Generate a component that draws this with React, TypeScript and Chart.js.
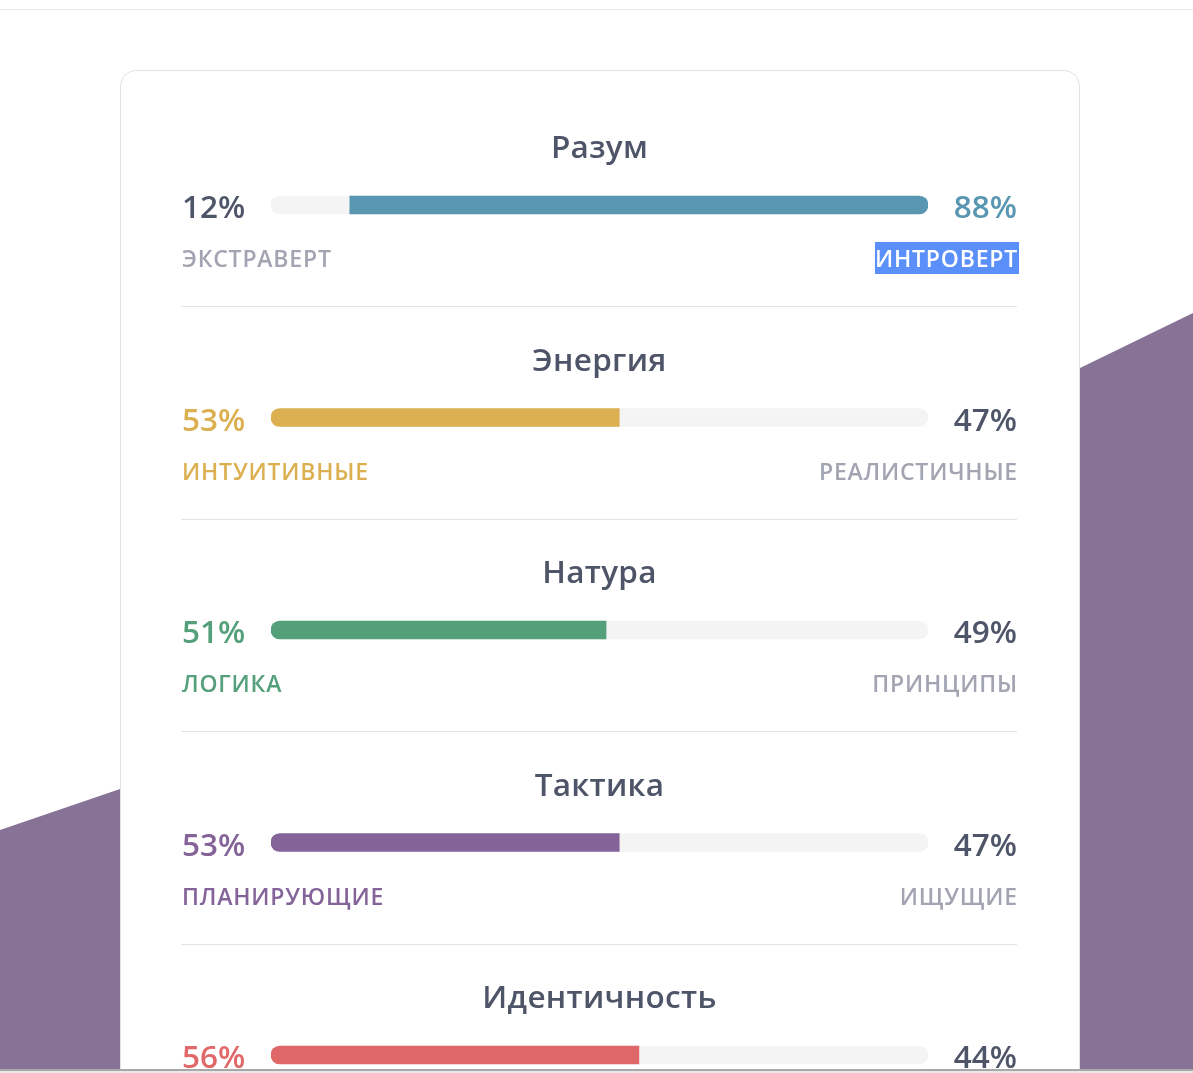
import React, { useEffect, useRef } from 'react';
import { Chart, registerables } from 'chart.js';

Chart.register(...registerables);

// ---- data ----
const traits = ['Разум', 'Энергия', 'Натура', 'Тактика', 'Идентичность'];
const leftLabels = ['ЭКСТРАВЕРТ', 'ИНТУИТИВНЫЕ', 'ЛОГИКА', 'ПЛАНИРУЮЩИЕ', 'НАПОРИСТЫЕ'];
const rightLabels = ['ИНТРОВЕРТ', 'РЕАЛИСТИЧНЫЕ', 'ПРИНЦИПЫ', 'ИЩУЩИЕ', 'ТРЕВОЖНЫЕ'];
const leftPercents = [12, 53, 51, 53, 56];
const rightPercents = [88, 47, 49, 47, 44];
const traitColors = ['#5996b2', '#dcaf50', '#54a07b', '#846399', '#e16868'];
const selectedLabel = 'ИНТРОВЕРТ';

const TEXT_DARK = '#4f5568';
const TEXT_MUTED = '#a2a4b2';
const TRACK = '#f4f4f4';
const FONT = '"Open Sans", "Noto Sans", sans-serif';

const rightDominant = leftPercents.map((l, i) => rightPercents[i] > l);
const fillData = leftPercents.map((l, i) => (rightDominant[i] ? [l, 100] : [0, l]));
const trackData = traits.map(() => [0, 100]);

const textPlugin = {
  id: 'traitText',
  afterDatasetsDraw(chart: any) {
    const { ctx, chartArea, scales } = chart;
    const cx = (chartArea.left + chartArea.right) / 2;
    const xl = chartArea.left - 89;
    const xr = chartArea.right + 89;
    ctx.save();
    traits.forEach((name, i) => {
      const y = scales.y.getPixelForValue(i);
      const color = traitColors[i];
      const rd = rightDominant[i];
      // title
      ctx.letterSpacing = '0.3px';
      ctx.font = `600 31.5px ${FONT}`;
      ctx.fillStyle = TEXT_DARK;
      ctx.textAlign = 'center';
      ctx.textBaseline = 'alphabetic';
      ctx.fillText(name, cx, y - 47);
      // percentages
      ctx.letterSpacing = '0px';
      ctx.font = `600 31.5px ${FONT}`;
      ctx.textAlign = 'left';
      ctx.fillStyle = rd ? TEXT_DARK : color;
      ctx.fillText(leftPercents[i] + '%', xl, y + 13);
      ctx.textAlign = 'right';
      ctx.fillStyle = rd ? color : TEXT_DARK;
      ctx.fillText(rightPercents[i] + '%', xr, y + 13);
      // side labels
      ctx.font = `600 23px ${FONT}`;
      ctx.letterSpacing = '0.8px';
      ctx.textAlign = 'left';
      ctx.fillStyle = rd ? TEXT_MUTED : color;
      ctx.fillText(leftLabels[i], xl, y + 62);
      ctx.textAlign = 'right';
      const rl = rightLabels[i];
      if (rl === selectedLabel) {
        const w = ctx.measureText(rl).width;
        ctx.fillStyle = '#5b8ff9';
        ctx.fillRect(xr + 1 - w, y + 37, w + 1, 32);
        ctx.fillStyle = '#ffffff';
      } else {
        ctx.fillStyle = rd ? color : TEXT_MUTED;
      }
      ctx.fillText(rl, xr + 1, y + 62);
      ctx.letterSpacing = '0px';
      // separator
      if (i < traits.length - 1) {
        ctx.fillStyle = '#e2e2e8';
        ctx.fillRect(xl - 1, Math.round(y + 101), xr - xl + 1, 1);
      }
    });
    ctx.restore();
  },
};

export default function App() {
  const ref = useRef<HTMLCanvasElement>(null);

  useEffect(() => {
    if (!ref.current) return;
    const chart = new Chart(ref.current, {
      type: 'bar',
      data: {
        labels: traits,
        datasets: [
          {
            data: fillData as any,
            backgroundColor: traitColors,
            borderSkipped: false,
            borderRadius: (c: any) =>
              rightDominant[c.dataIndex]
                ? { topLeft: 0, bottomLeft: 0, topRight: 9, bottomRight: 9 }
                : { topLeft: 9, bottomLeft: 9, topRight: 0, bottomRight: 0 },
            barThickness: 18,
            grouped: false,
          } as any,
          {
            data: trackData as any,
            backgroundColor: TRACK,
            borderSkipped: false,
            borderRadius: { topLeft: 9, bottomLeft: 9, topRight: 9, bottomRight: 9 },
            barThickness: 18,
            grouped: false,
          } as any,
        ],
      },
      options: {
        indexAxis: 'y',
        animation: false,
        responsive: false,
        maintainAspectRatio: false,
        events: [],
        layout: { padding: { left: 271, right: 265, top: 98.75, bottom: 38.75 } },
        scales: {
          x: { min: 0, max: 100, display: false },
          y: { display: false },
        },
        plugins: { legend: { display: false }, tooltip: { enabled: false } },
      },
      plugins: [textPlugin],
    });
    return () => chart.destroy();
  }, []);

  return (
    <div style={{ position: 'fixed', inset: 0, overflow: 'hidden', background: '#ffffff' }}>
      <div style={{ position: 'absolute', left: 0, top: 9, width: 1193, height: 1, background: '#e9e9e9' }} />
      <svg width={1193} height={1073} style={{ position: 'absolute', left: 0, top: 0 }}>
        <polygon points="0,830 120,789 1080,368 1193,313 1193,1073 0,1073" fill="#877395" />
      </svg>
      <div
        style={{
          position: 'absolute',
          left: 120,
          top: 70,
          width: 960,
          height: 1100,
          boxSizing: 'border-box',
          border: '1px solid #e2e2e2',
          borderRadius: 16,
          background: '#ffffff',
        }}
      />
      <canvas
        ref={ref}
        width={1193}
        height={1200}
        style={{ position: 'absolute', left: 0, top: 0, width: 1193, height: 1200 }}
      />
      <div style={{ position: 'absolute', left: 0, top: 1069, width: 1193, height: 2, background: '#a8a8a8' }} />
      <div style={{ position: 'absolute', left: 0, top: 1071, width: 1193, height: 2, background: '#e8e8e8' }} />
    </div>
  );
}
